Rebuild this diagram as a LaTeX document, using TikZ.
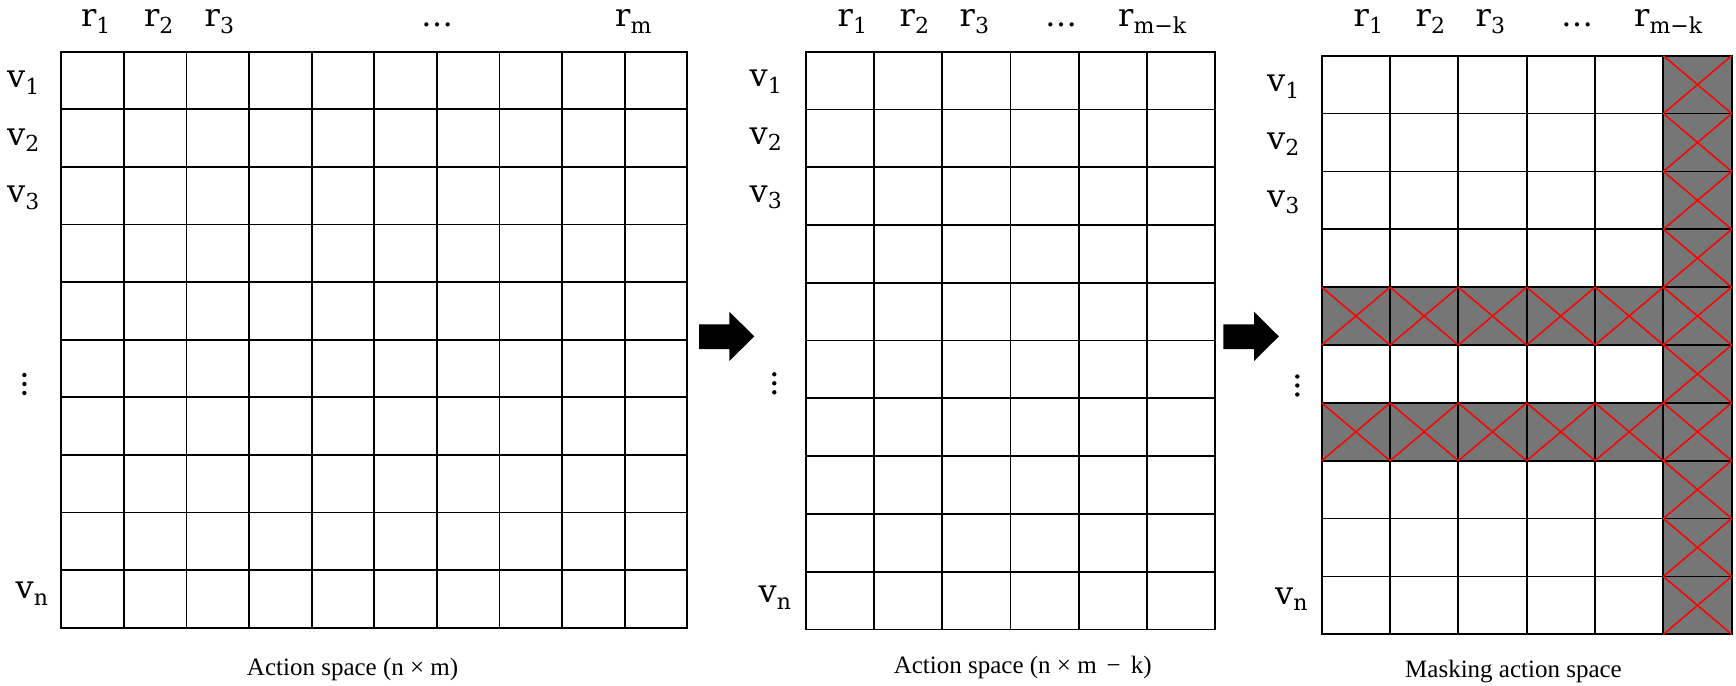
\documentclass[tikz,border=0pt]{standalone}
\usepackage{fontspec}
\setmainfont{Liberation Serif}
\newfontfamily\labfont{DejaVu Serif}
\definecolor{maskgray}{RGB}{118,118,118}
\newcommand\labsub[1]{\raisebox{-6.5pt}{\fontsize{22}{22}\selectfont #1}}
\begin{document}
\begin{tikzpicture}[x=1pt,y=-1pt]
\tikzset{
  gridline/.style={line width=1.8pt, draw=black},
  xline/.style={line width=1.5pt, draw=red},
  lab/.style={font=\labfont\fontsize{32}{32}\selectfont, inner sep=0pt},
  collab/.style={lab, anchor=base west},
  rowlab/.style={lab, anchor=base west},
  captext/.style={font=\fontsize{25}{25}\selectfont, inner sep=0pt, anchor=base},
  blockarrow/.style={fill=black},
  vdot/.style={fill=black}
}
\useasboundingbox (0,0) rectangle (1736,685);

% ---------- grid 1 : 10 x 10 ----------
\foreach \i in {1,...,9}
  \draw[gridline] ({61.3+\i*62.6},51.7) -- ({61.3+\i*62.6},627.7);
\foreach \j in {1,...,9}
  \draw[gridline] (61.3,{51.7+\j*57.6}) -- (687.3,{51.7+\j*57.6});
\draw[gridline] (61.3,51.7) rectangle (687.3,627.7);

% ---------- grid 2 : 10 x 6 ----------
\foreach \i in {1,...,5}
  \draw[gridline] ({805.7+\i*68.27},51.7) -- ({805.7+\i*68.27},629.4);
\foreach \j in {1,...,9}
  \draw[gridline] (805.7,{51.7+\j*57.77}) -- (1215.3,{51.7+\j*57.77});
\draw[gridline] (805.7,51.7) rectangle (1215.3,629.4);

% ---------- grid 3 : 10 x 6 with mask ----------
\fill[maskgray] (1321.7,{55.7+4*57.86}) rectangle (1731.7,{55.7+5*57.86});
\fill[maskgray] (1321.7,{55.7+6*57.86}) rectangle (1731.7,{55.7+7*57.86});
\fill[maskgray] ({1321.7+5*68.33},55.7) rectangle (1731.7,634.3);
\foreach \i in {1,...,5}
  \draw[gridline] ({1321.7+\i*68.33},55.7) -- ({1321.7+\i*68.33},634.3);
\foreach \j in {1,...,9}
  \draw[gridline] (1321.7,{55.7+\j*57.86}) -- (1731.7,{55.7+\j*57.86});
\draw[gridline] (1321.7,55.7) rectangle (1731.7,634.3);
% red crosses: last column
\foreach \j in {0,...,9}{
  \draw[xline] ({1321.7+5*68.33},{55.7+\j*57.86}) -- (1731.7,{55.7+(\j+1)*57.86});
  \draw[xline] ({1321.7+5*68.33},{55.7+(\j+1)*57.86}) -- (1731.7,{55.7+\j*57.86});
}
% red crosses: masked rows 5 and 7
\foreach \j in {4,6}{
  \foreach \i in {0,...,4}{
    \draw[xline] ({1321.7+\i*68.33},{55.7+\j*57.86}) -- ({1321.7+(\i+1)*68.33},{55.7+(\j+1)*57.86});
    \draw[xline] ({1321.7+\i*68.33},{55.7+(\j+1)*57.86}) -- ({1321.7+(\i+1)*68.33},{55.7+\j*57.86});
  }
}

% ---------- column labels ----------
\node[collab] (ga1) at (81,27) {r\labsub{1}};
\node[collab] (ga2) at (144,27) {r\labsub{2}};
\node[collab] (ga3) at (204.5,27) {r\labsub{3}};
\node[collab] (gadots) at (421,27) {…};
\node[collab] (gam) at (615,27) {r\labsub{m}};

\node[collab] (gb1) at (837.5,27) {r\labsub{1}};
\node[collab] (gb2) at (899.5,27) {r\labsub{2}};
\node[collab] (gb3) at (959.5,27) {r\labsub{3}};
\node[collab] (gbdots) at (1045,27) {…};
\node[collab] (gbm) at (1118,27) {r\labsub{m−k}};

\node[collab] (gc1) at (1353.5,27) {r\labsub{1}};
\node[collab] (gc2) at (1415.5,27) {r\labsub{2}};
\node[collab] (gc3) at (1475.5,27) {r\labsub{3}};
\node[collab] (gcdots) at (1561,27) {…};
\node[collab] (gcm) at (1634,27) {r\labsub{m−k}};

% ---------- row labels ----------
\node[rowlab] (va1) at (7,{51.7+0.5*57.6+7}) {v\labsub{1}};
\node[rowlab] (va2) at (7,{51.7+1.5*57.6+7}) {v\labsub{2}};
\node[rowlab] (va3) at (7,{51.7+2.5*57.6+7}) {v\labsub{3}};
\node[rowlab] (van) at (15.5,{51.7+9.5*57.6}) {v\labsub{n}};
\foreach \d in {-9,0,9} \fill[vdot] (24.4,{384+\d}) circle (2.2);

\node[rowlab] (vb1) at (749.5,{51.7+0.5*57.77+6}) {v\labsub{1}};
\node[rowlab] (vb2) at (749.5,{51.7+1.5*57.77+6}) {v\labsub{2}};
\node[rowlab] (vb3) at (749.5,{51.7+2.5*57.77+6}) {v\labsub{3}};
\node[rowlab] (vbn) at (758.5,{51.7+9.5*57.77+2}) {v\labsub{n}};
\foreach \d in {-9,0,9} \fill[vdot] (774.3,{383.3+\d}) circle (2.2);

\node[rowlab] (vc1) at (1267,{55.7+0.5*57.86+7}) {v\labsub{1}};
\node[rowlab] (vc2) at (1267,{55.7+1.5*57.86+7}) {v\labsub{2}};
\node[rowlab] (vc3) at (1267,{55.7+2.5*57.86+7}) {v\labsub{3}};
\node[rowlab] (vcn) at (1275,{55.7+9.5*57.86-1}) {v\labsub{n}};
\foreach \d in {-9,0,9} \fill[vdot] (1297.3,{385.5+\d}) circle (2.2);

% ---------- block arrows ----------
\fill[blockarrow] (699,324.3) -- (729.3,324.3) -- (729.3,311.7) -- (754.3,336.4)
  -- (729.3,361) -- (729.3,349) -- (699,349) -- cycle;
\fill[blockarrow] (1223.3,324.3) -- (1254,324.3) -- (1254,311.7) -- (1278.9,336.4)
  -- (1254,361) -- (1254,349) -- (1223.3,349) -- cycle;

% ---------- captions ----------
\node[captext] (capa) at (352.6,675) {Action space (n × m)};
\node[captext] (capb) at (1022.7,673) {Action space (n × m\hspace{10pt}−\hspace{10pt}k)};
\node[captext] (capc) at (1513.5,677) {Masking action space};
\end{tikzpicture}
\end{document}
